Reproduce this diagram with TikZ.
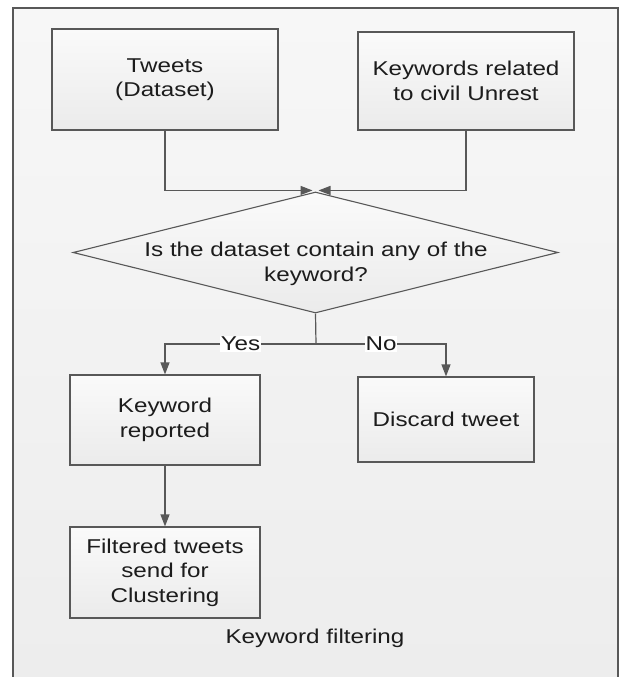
\documentclass[tikz,border=0pt]{standalone}
\usepackage{fontspec}
\setmainfont{Liberation Sans}[FakeStretch=1.21]
\usetikzlibrary{arrows.meta,shapes.geometric}
\definecolor{linegray}{HTML}{585858}
\definecolor{txt}{HTML}{1C1C1C}
\definecolor{bgtop}{HTML}{F7F7F7}
\definecolor{bgbot}{HTML}{EDEDED}
\definecolor{boxtop}{HTML}{FAFAFA}
\definecolor{boxbot}{HTML}{EBEBEB}
\tikzset{
  procbox/.style={draw=linegray, line width=1.2pt, top color=boxtop, bottom color=boxbot,
    inner sep=0pt, align=center, text=txt, font=\fontsize{20}{24.5}\selectfont},
  decision/.style={diamond, draw=linegray, line width=1.1pt, top color=boxtop, bottom color=boxbot,
    inner sep=0pt},
  plaintext/.style={align=center, text=txt, font=\fontsize{20}{24.5}\selectfont, inner sep=0pt},
  lbl/.style={fill=white, text=txt, font=\fontsize{20}{24}\selectfont, inner sep=1pt},
  conn/.style={draw=linegray, line width=1.2pt},
  arr/.style={conn, -{Triangle[length=12pt,width=9pt]}, linegray},
}
\begin{document}
\begin{tikzpicture}[x=1pt,y=-1pt]
\useasboundingbox (0,0) rectangle (621,677);
\fill[white] (0,0) rectangle (621,677);
\shade[top color=bgtop, bottom color=bgbot] (13,8) rectangle (618,677);
\draw[linegray, line width=1.2pt] (13,679) -- (13,8) -- (618,8) -- (618,679);

\node[procbox, minimum width=226pt, minimum height=101pt] (tweets) at (165,79.5) {Tweets\\(Dataset)};
\node[procbox, minimum width=216pt, minimum height=98pt] (keys) at (466,81) {Keywords related\\to civil Unrest};
\node[decision, minimum width=485pt, minimum height=121pt] (dec) at (315.5,252.5) {};
\node[plaintext] (dectext) at (316,264) {Is the dataset contain any of the\\keyword?};
\node[procbox, minimum width=190pt, minimum height=90pt] (kr) at (165,420) {Keyword\\reported};
\node[procbox, minimum width=176pt, minimum height=85pt] (disc) at (446,419.5) {Discard tweet};
\node[procbox, minimum width=190pt, minimum height=91pt] (filt) at (165,572.5) {Filtered tweets\\send for\\Clustering};
\node[plaintext] (caption) at (315,638) {Keyword filtering};

\draw[arr] (tweets.south) |- ([xshift=-3pt,yshift=1pt]dec.north);
\draw[arr] (keys.south) |- ([xshift=3pt,yshift=1pt]dec.north);
\coordinate (split) at (316,344);
\draw[conn] (dec.south) -- (split);
\draw[arr] (split) -| node[lbl, pos=0.25] (yes) {Yes} (kr.north);
\draw[arr] (split) -| node[lbl, pos=0.25] (no) {No} (disc.north);
\draw[arr] (kr.south) -- (filt.north);
\end{tikzpicture}
\end{document}
